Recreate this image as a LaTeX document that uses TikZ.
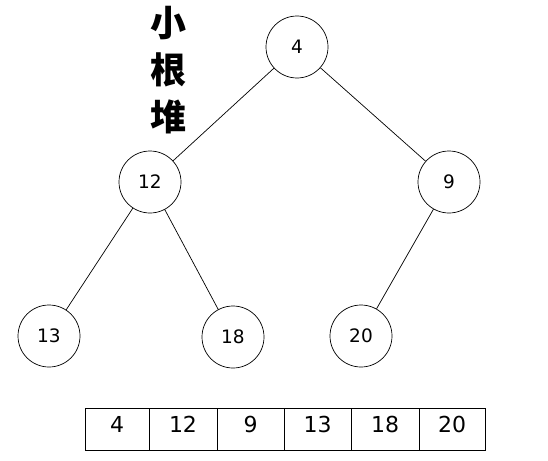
\documentclass[tikz,border=0pt]{standalone}
\usepackage{fontspec}
\setmainfont{DejaVu Sans}
\newfontfamily\cjk{Noto Sans CJK SC}
\begin{document}
\begin{tikzpicture}[x=1pt,y=-1pt,
  hnode/.style={circle,draw,line width=0.7pt,minimum size=62pt,inner sep=0pt,font=\fontsize{18.5}{18.5}\selectfont},
  cell/.style={draw,line width=0.7pt,minimum height=42pt,inner sep=0pt,outer sep=0pt,text height=0.73em,text depth=0pt,font=\fontsize{22}{22}\selectfont},
  tchar/.style={font=\cjk\bfseries\fontsize{36}{36}\selectfont,inner sep=0pt},
  edge/.style={line width=0.7pt}]
\useasboundingbox (0,0) rectangle (548,460);
\node[hnode] (n4) at (297,47) {4};
\node[hnode] (n12) at (150,182) {12};
\node[hnode] (n9) at (449,182) {9};
\node[hnode] (n13) at (49,336) {13};
\node[hnode] (n18) at (233,337) {18};
\node[hnode] (n20) at (361,336) {20};
\draw[edge] (n4) -- (n12);
\draw[edge] (n4) -- (n9);
\draw[edge] (n12) -- (n13);
\draw[edge] (n12) -- (n18);
\draw[edge] (n9) -- (n20);
\node[tchar] (t1) at (168,23) {小};
\node[tchar] (t2) at (168,70) {根};
\node[tchar] (t3) at (168,117) {堆};
\node[cell,minimum width=64pt] (c1) at (117,429) {4};
\node[cell,minimum width=68pt] (c2) at (183,429) {12};
\node[cell,minimum width=67pt] (c3) at (250.5,429) {9};
\node[cell,minimum width=67pt] (c4) at (317.5,429) {13};
\node[cell,minimum width=68pt] (c5) at (385,429) {18};
\node[cell,minimum width=66pt] (c6) at (452,429) {20};
\end{tikzpicture}
\end{document}
